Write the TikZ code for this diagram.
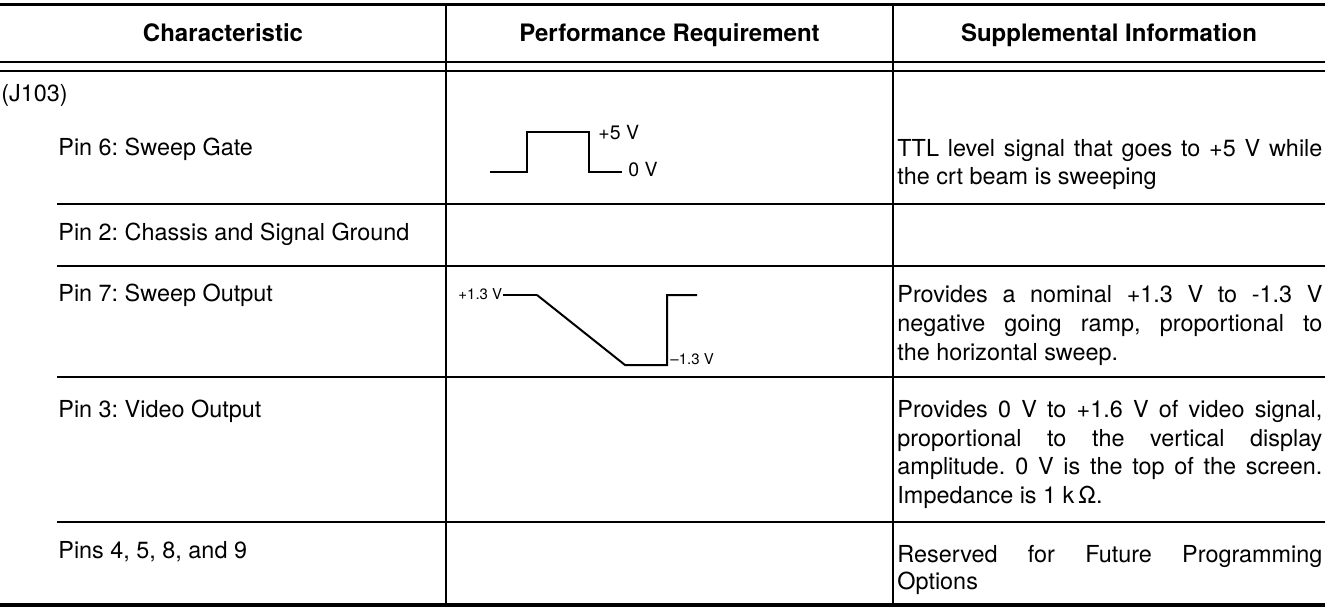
\documentclass[tikz,border=0pt]{standalone}
\usepackage{fontspec}
\setmainfont{TeX Gyre Heros}
\newcommand\jline[1]{\makebox[212.5pt][s]{#1}}
\begin{document}
\frenchspacing
\begin{tikzpicture}[x=0.5pt,y=-0.5pt,
  rule/.style={line width=1.1pt},
  thickrule/.style={line width=1.5pt},
  wave/.style={line width=1pt, line join=miter},
  body/.style={inner sep=0pt, anchor=base west, font=\fontsize{11.7}{14}\selectfont},
  head/.style={inner sep=0pt, anchor=base, font=\fontsize{12}{14}\selectfont\bfseries},
  lbl/.style={inner sep=0pt, anchor=base west, font=\fontsize{9.75}{11}\selectfont},
  slbl/.style={inner sep=0pt, anchor=base west, font=\fontsize{7.5}{9}\selectfont},
]
\useasboundingbox (0,0) rectangle (1337,609);
% table rules
\draw[thickrule] (0,5) -- (1325,5);
\draw[rule] (0,62) -- (1325,62);
\draw[rule] (0,71) -- (1325,71);
\draw[rule] (446,5) -- (446,605);
\draw[rule] (893,5) -- (893,605);
\foreach \y in {204,266,377,522} \draw[rule] (57,\y) -- (1325,\y);
\draw[line width=1.6pt] (0,605) -- (1325,605);
% headers
\node[head] (h1) at (223,42) {Characteristic};
\node[head] (h2) at (669.5,42) {Performance Requirement};
\node[head] (h3) at (1109,42) {Supplemental Information};
% first column
\node[body] (j) at (1,102) {(J103)};
\node[body] (c1) at (58,156) {Pin 6: Sweep Gate};
\node[body] (c2) at (58,241) {Pin 2: Chassis and Signal Ground};
\node[body] (c3) at (58,301) {Pin 7: Sweep Output};
\node[body] (c4) at (58,417) {Pin 3: Video Output};
\node[body] (c5) at (58,558) {Pins 4, 5, 8, and 9};
% third column
\node[body] (s1a) at (897,157) {\jline{TTL level signal that goes to +5 V while}};
\node[body] (s1b) at (897,185) {the crt beam is sweeping};
\node[body] (s3a) at (897,302) {\jline{Provides a nominal +1.3 V to -1.3 V}};
\node[body] (s3b) at (897,331) {\jline{negative going ramp, proportional to}};
\node[body] (s3c) at (897,360) {the horizontal sweep.};
\node[body] (s4a) at (897,417) {\jline{Provides 0 V to +1.6 V of video signal,}};
\node[body] (s4b) at (897,446) {\jline{proportional to the vertical display}};
\node[body] (s4c) at (897,474.5) {\jline{amplitude. 0 V is the top of the screen.}};
\node[body] (s4d) at (897,503) {Impedance is 1 k\,Ω.};
\node[body] (s5a) at (897,562) {\jline{Reserved for Future Programming}};
\node[body] (s5b) at (897,589) {Options};
% waveform 1: sweep gate
\draw[wave] (490,171.7) -- (527,171.7) -- (527,131.7) -- (589,131.7) -- (589,171.7) -- (622,171.7);
\node[lbl] (p5) at (598,140) {+5 V};
\node[lbl] (z0) at (628,177) {0 V};
% waveform 2: sweep output
\draw[line width=0.6pt] (503,295) -- (537,295);
\draw[wave] (537,295) -- (625,365) -- (667,365) -- (667,295) -- (697,295);
\node[slbl] (p13) at (458,299) {+1.3 V};
\node[slbl] (m13) at (670,364) {–1.3 V};
\end{tikzpicture}
\end{document}
